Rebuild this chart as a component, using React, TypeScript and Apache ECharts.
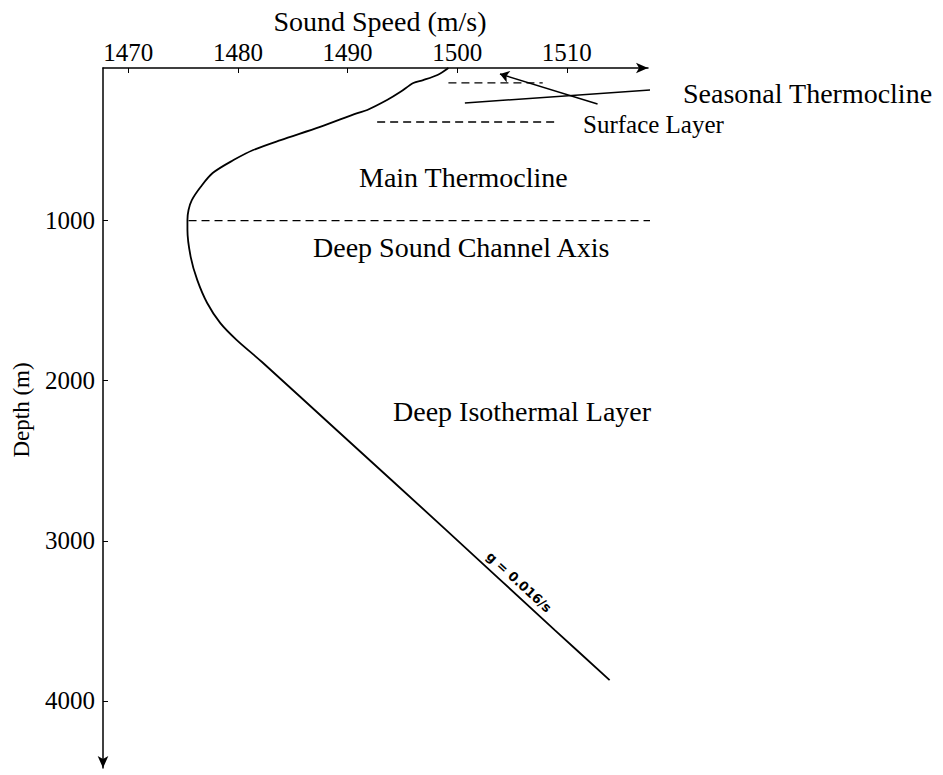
import React, { useEffect, useRef } from "react";
import * as echarts from "echarts";

const speedTicks = [1470, 1480, 1490, 1500, 1510];
const depthTicks = [1000, 2000, 3000, 4000];

const profileSpeed = [1499.2, 1498.2, 1496.9, 1496.0, 1494.8, 1493.6, 1491.8, 1490.9, 1487.5, 1483.9, 1481.4, 1479.6, 1477.7, 1476.6, 1475.8, 1475.5, 1475.4, 1475.4, 1475.7, 1476.3, 1477.2, 1478.4, 1479.9, 1482.2, 1489.0, 1499.0, 1508.9, 1513.9];
const profileDepth = [45, 89, 121, 139, 196, 246, 308, 327, 414, 496, 558, 621, 702, 789, 871, 933, 996, 1058, 1227, 1371, 1514, 1640, 1746, 1883, 2308, 2933, 3558, 3871];

const surfaceTopSpeed = [1499.2, 1507.8];
const surfaceTopDepth = [139, 139];
const surfaceBottomSpeed = [1492.7, 1509.0];
const surfaceBottomDepth = [383, 383];
const channelAxisSpeed = [1475.5, 1518.3];
const channelAxisDepth = [1000, 1000];
const seasonalSpeed = [1500.7, 1519.0];
const seasonalDepth = [264, 177];
const arrowSpeed = [1503.9, 1512.8];
const arrowDepth = [83, 271];

const zip = (xs: number[], ys: number[]) => xs.map((x, i) => [x, ys[i]]);

const SERIF = "'Liberation Serif', 'DejaVu Serif', serif";

export default function App() {
  const ref = useRef<HTMLDivElement>(null);
  useEffect(() => {
    if (!ref.current) return;
    const chart = echarts.init(ref.current, null, { renderer: "svg" });
    const dashed = (xs: number[], ys: number[]) => ({
      type: "line",
      data: zip(xs, ys),
      symbol: "none",
      clip: false,
      lineStyle: { color: "#000", width: 1.3, type: [8, 5] },
      silent: true,
    });
    chart.setOption({
      animation: false,
      backgroundColor: "#fff",
      grid: { left: 103, top: 68, width: 545, height: 700 },
      xAxis: {
        type: "value",
        position: "top",
        min: 1467.7,
        max: 1517.4,
        axisLine: { show: true, lineStyle: { color: "#000", width: 1.5 }, symbol: ["none", "arrow"], symbolSize: [8, 12] },
        axisTick: { show: true, inside: true, length: 5, lineStyle: { color: "#000" }, customValues: speedTicks },
        axisLabel: { fontFamily: SERIF, fontSize: 25, color: "#000", margin: 3, customValues: speedTicks, formatter: (v: number) => String(v) },
        splitLine: { show: false },
      },
      yAxis: {
        type: "value",
        inverse: true,
        min: 45.6,
        max: 4420,
        axisLine: { show: true, lineStyle: { color: "#000", width: 1.5 }, symbol: ["arrow", "none"], symbolSize: [8, 12] },
        axisTick: { show: true, inside: true, length: 5, lineStyle: { color: "#000" }, customValues: depthTicks },
        axisLabel: { fontFamily: SERIF, fontSize: 25, color: "#000", margin: 8, customValues: depthTicks, formatter: (v: number) => String(v) },
        splitLine: { show: false },
      },
      series: [
        {
          type: "line",
          data: zip(profileSpeed, profileDepth),
          smooth: 0.3,
          symbol: "none",
          lineStyle: { color: "#000", width: 1.8 },
        },
        dashed(surfaceTopSpeed, surfaceTopDepth),
        dashed(surfaceBottomSpeed, surfaceBottomDepth),
        dashed(channelAxisSpeed, channelAxisDepth),
        {
          type: "line",
          data: zip(seasonalSpeed, seasonalDepth),
          symbol: "none",
          clip: false,
          lineStyle: { color: "#000", width: 1.5 },
        },
        {
          type: "lines",
          coordinateSystem: "cartesian2d",
          symbol: ["arrow", "none"],
          symbolSize: 9,
          clip: false,
          lineStyle: { color: "#000", width: 1.5, opacity: 1 },
          data: [{ coords: zip(arrowSpeed, arrowDepth) }],
        },
      ],
      graphic: [
        { type: "text", x: 380, y: 21, style: { text: "Sound Speed (m/s)", font: `28px ${SERIF}`, fill: "#000", align: "center", verticalAlign: "middle" } },
        { type: "text", x: 21, y: 410, rotation: Math.PI / 2, style: { text: "Depth (m)", font: `23px ${SERIF}`, fill: "#000", align: "center", verticalAlign: "middle" } },
        { type: "text", x: 683, y: 93, style: { text: "Seasonal Thermocline", font: `28px ${SERIF}`, fill: "#000", verticalAlign: "middle" } },
        { type: "text", x: 583, y: 124, style: { text: "Surface Layer", font: `25px ${SERIF}`, fill: "#000", verticalAlign: "middle" } },
        { type: "text", x: 359, y: 177, style: { text: "Main Thermocline", font: `28px ${SERIF}`, fill: "#000", verticalAlign: "middle" } },
        { type: "text", x: 313, y: 247, style: { text: "Deep Sound Channel Axis", font: `28px ${SERIF}`, fill: "#000", verticalAlign: "middle" } },
        { type: "text", x: 393, y: 411, style: { text: "Deep Isothermal Layer", font: `28px ${SERIF}`, fill: "#000", verticalAlign: "middle" } },
        {
          type: "text",
          x: 519,
          y: 582,
          rotation: -0.74,
          style: { text: "g = 0.016/s", font: `bold 13px 'DejaVu Sans', sans-serif`, fill: "#000", align: "center", verticalAlign: "middle" },
        },
      ],
    });
    return () => chart.dispose();
  }, []);
  return <div ref={ref} style={{ position: "absolute", left: 0, top: 0, width: 943, height: 775 }} />;
}
